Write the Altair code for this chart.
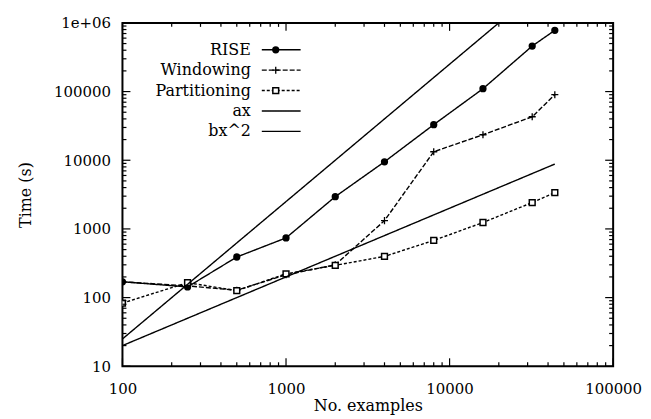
import altair as alt
import pandas as pd

# ---- data ----
x_examples = [100, 250, 500, 1000, 2000, 4000, 8000, 16000, 32000, 44000]
rise = [170, 143, 390, 740, 2950, 9500, 33000, 110000, 460000, 780000]
windowing = [170, 148, 128, 215, 300, 1320, 13300, 23500, 43000, 90000]
partitioning = [83, 165, 126, 222, 295, 398, 680, 1240, 2420, 3380]
ax_fit = [20, 50, 100, 200, 400, 800, 1600, 3200, 6400, 8800]
bx2_fit = [25, 156, 625, 2500, 10000, 40000, 160000, 640000, 2560000, 4840000]

series_names = ["RISE", "Windowing", "Partitioning", "ax", "bx^2"]
series_values = [rise, windowing, partitioning, ax_fit, bx2_fit]

x_major = [100, 1000, 10000, 100000]
y_major = [10, 100, 1000, 10000, 100000, 1000000]

# ---- styles ----
W, H = 493, 345
FONT = "DejaVu Serif"
dash = {"RISE": [1, 0], "Windowing": [5, 2], "Partitioning": [3, 2], "ax": [1, 0], "bx^2": [1, 0]}
plus_path = "M-1,0L1,0M0,-1L0,1"
marker = {
    "RISE": dict(shape="circle", filled=True, size=28, fill="black", stroke="black"),
    "Windowing": dict(shape=plus_path, filled=False, size=50, stroke="black", strokeWidth=1.3),
    "Partitioning": dict(shape="square", filled=True, size=34, fill="white", stroke="black", strokeWidth=1.5),
}

x_minor = [m * 10 ** k for k in range(2, 5) for m in range(2, 10)]
y_minor = [m * 10 ** k for k in range(1, 6) for m in range(2, 10)]

xs = alt.Scale(type="log", domain=[100, 100000])
ys = alt.Scale(type="log", domain=[10, 1000000])

x_axis = alt.Axis(
    values=x_major, format="d", title="No. examples", grid=False, ticks=False,
    domain=False, labelFlush=False, labelFont=FONT, labelFontSize=15, labelPadding=15,
    labelColor="black",
    titleFont=FONT, titleFontSize=16, titleFontWeight="normal", titlePadding=1, titleColor="black")
y_axis = alt.Axis(
    values=y_major, title="Time (s)", grid=False, ticks=False, domain=False, labelFlush=False,
    labelExpr="datum.value >= 1000000 ? '1e+06' : format(datum.value, 'd')",
    labelFont=FONT, labelFontSize=15, labelPadding=12, labelColor="black",
    titleFont=FONT, titleFontSize=16, titleFontWeight="normal", titlePadding=20, titleColor="black")


def X(field):
    return alt.X(field, scale=xs, axis=x_axis)


def Y(field):
    return alt.Y(field, scale=ys, axis=y_axis)


rows = []
for name, vals in zip(series_names, series_values):
    for xv, yv in zip(x_examples, vals):
        rows.append({"series": name, "n": xv, "t": yv})
df = pd.DataFrame(rows)

layers = []
for name in series_names:
    sub = df[df.series == name]
    layers.append(alt.Chart(sub).mark_line(color="black", strokeWidth=1.4, strokeDash=dash[name], clip=True)
                  .encode(x=X("n:Q"), y=Y("t:Q")))
    if name in marker:
        layers.append(alt.Chart(sub).mark_point(opacity=1, clip=True, **marker[name])
                      .encode(x=X("n:Q"), y=Y("t:Q")))

# ---- inward gnuplot-style ticks ----
for vals, ln in [(x_major, 8), (x_minor, 4)]:
    tdf = pd.DataFrame({"n": vals})
    layers.append(alt.Chart(tdf).mark_rule(color="black", strokeWidth=1.2).encode(
        x=X("n:Q"), y=alt.value(H), y2=alt.value(H - ln)))
    layers.append(alt.Chart(tdf).mark_rule(color="black", strokeWidth=1.2).encode(
        x=X("n:Q"), y=alt.value(0), y2=alt.value(ln)))
for vals, ln in [(y_major, 8), (y_minor, 4)]:
    tdf = pd.DataFrame({"t": vals})
    layers.append(alt.Chart(tdf).mark_rule(color="black", strokeWidth=1.2).encode(
        y=Y("t:Q"), x=alt.value(0), x2=alt.value(ln)))
    layers.append(alt.Chart(tdf).mark_rule(color="black", strokeWidth=1.2).encode(
        y=Y("t:Q"), x=alt.value(W - ln), x2=alt.value(W)))

# ---- legend (top-left, labels right-aligned, sample to the right) ----
dummy = pd.DataFrame({"a": [0]})
legend_rows = [27, 47.5, 68, 88.5, 109]
for name, py in zip(series_names, legend_rows):
    layers.append(alt.Chart(dummy).mark_text(align="right", baseline="middle", font=FONT,
                                             fontSize=16, color="black").encode(
        x=alt.value(129), y=alt.value(py), text=alt.value(name)))
    layers.append(alt.Chart(dummy).mark_rule(color="black", strokeWidth=1.4, strokeDash=dash[name]).encode(
        x=alt.value(140), x2=alt.value(179), y=alt.value(py)))
    if name in marker:
        layers.append(alt.Chart(dummy).mark_point(opacity=1, **marker[name]).encode(
            x=alt.value(154), y=alt.value(py)))

chart = alt.layer(*layers).properties(
    width=W, height=H,
    autosize=alt.AutoSizeParams(type="none"),
    padding={"left": 115, "top": 14, "right": 30, "bottom": 48},
).configure_view(stroke="black", strokeWidth=2)

chart.save("out.html", embed_options={"renderer": "svg", "actions": False})
